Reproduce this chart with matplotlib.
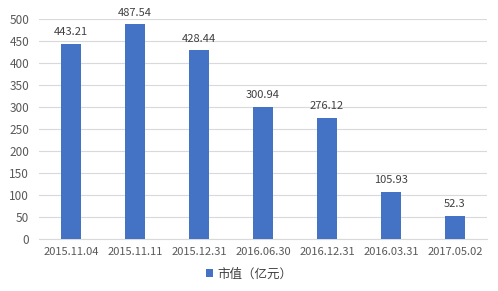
import matplotlib.pyplot as plt
import numpy as np

plt.rcParams['font.family'] = ['Noto Sans CJK SC', 'DejaVu Sans']

# 数据
dates = ["2015.11.04", "2015.11.11", "2015.12.31", "2016.06.30",
         "2016.12.31", "2016.03.31", "2017.05.02"]
values = [443.21, 487.54, 428.44, 300.94, 276.12, 105.93, 52.3]
labels = ["443.21", "487.54", "428.44", "300.94", "276.12", "105.93", "52.3"]

W, H = 498, 291
fig = plt.figure(figsize=(W / 100, H / 100), dpi=100)
ax = fig.add_axes([39 / W, 1 - 239 / H, 448 / W, 220 / H])

x = np.arange(len(dates))
bars = ax.bar(x, values, width=0.31, color="#4472C4", zorder=3, label="市值（亿元）")

for b, lab in zip(bars, labels):
    ax.annotate(lab, (b.get_x() + b.get_width() / 2, b.get_height()),
                xytext=(0, 5), textcoords="offset points",
                ha="center", va="bottom", fontsize=8, color="#404040")

ax.set_xlim(-0.5, len(dates) - 0.5)
ax.set_ylim(0, 500)
ax.set_yticks(np.arange(0, 501, 50))
ax.set_xticks(x)
ax.set_xticklabels(dates)
ax.grid(axis="y", color="#d9d9d9", linewidth=0.8, zorder=0)
for s in ["top", "right", "left"]:
    ax.spines[s].set_visible(False)
ax.spines["bottom"].set_color("#d9d9d9")
ax.tick_params(length=0, labelsize=8, colors="#595959")
ax.tick_params(axis="y", labelsize=8.5, pad=7)
ax.tick_params(axis="x", pad=6)

fig.legend(handles=[bars], labels=["市值（亿元）"], loc="center",
           bbox_to_anchor=(0.5, 1 - 274 / H), frameon=False, fontsize=9,
           handlelength=0.6, handleheight=0.6, handletextpad=0.3,
           labelcolor="#404040")

fig.savefig("out.png", dpi=100, facecolor="white")
